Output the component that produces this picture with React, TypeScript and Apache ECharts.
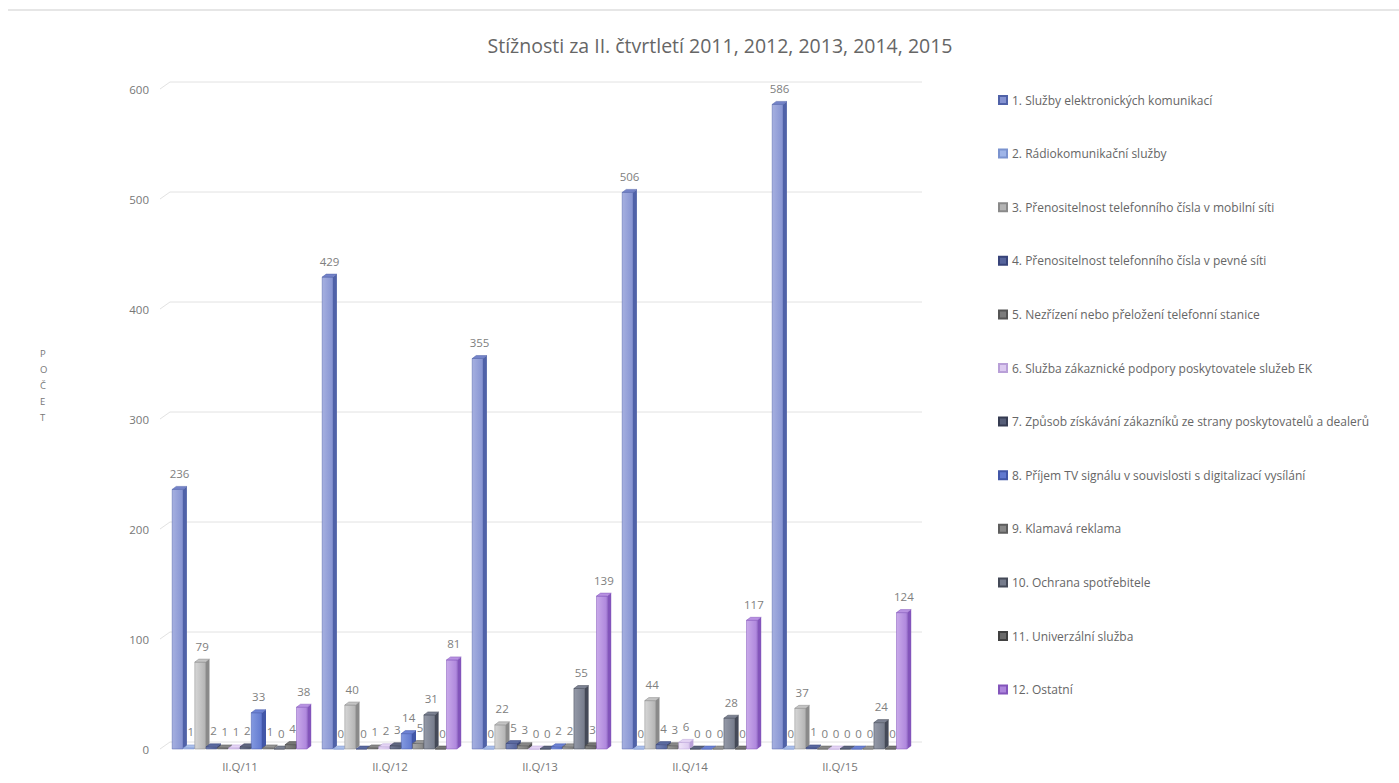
import React, { useEffect, useRef } from "react";
import * as echarts from "echarts";

const categories = ["II.Q/11", "II.Q/12", "II.Q/13", "II.Q/14", "II.Q/15"];

const seriesNames = [
  "1. Služby elektronických komunikací",
  "2. Rádiokomunikační služby",
  "3. Přenositelnost telefonního čísla v mobilní síti",
  "4. Přenositelnost telefonního čísla v pevné síti",
  "5. Nezřízení nebo přeložení telefonní stanice",
  "6. Služba zákaznické podpory poskytovatele služeb EK",
  "7. Způsob získávání zákazníků ze strany poskytovatelů a dealerů",
  "8. Příjem TV signálu v souvislosti s digitalizací vysílání",
  "9. Klamavá reklama",
  "10. Ochrana spotřebitele",
  "11. Univerzální služba",
  "12. Ostatní",
];

const sluzbyEK = [236, 429, 355, 506, 586];
const radiokomunikace = [1, 0, 0, 0, 0];
const prenositelnostMobil = [79, 40, 22, 44, 37];
const prenositelnostPevna = [2, 0, 5, 4, 1];
const nezrizeni = [1, 1, 3, 3, 0];
const zakaznickaPodpora = [1, 2, 0, 6, 0];
const ziskavaniZakazniku = [2, 3, 0, 0, 0];
const prijemTV = [33, 14, 2, 0, 0];
const klamavaReklama = [1, 5, 2, 0, 0];
const ochranaSpotrebitele = [0, 31, 55, 28, 24];
const univerzalniSluzba = [4, 0, 3, 0, 0];
const ostatni = [38, 81, 139, 117, 124];

const seriesValues = [
  sluzbyEK,
  radiokomunikace,
  prenositelnostMobil,
  prenositelnostPevna,
  nezrizeni,
  zakaznickaPodpora,
  ziskavaniZakazniku,
  prijemTV,
  klamavaReklama,
  ochranaSpotrebitele,
  univerzalniSluzba,
  ostatni,
];

const yTicks = [0, 100, 200, 300, 400, 500, 600];

// front (light / dark for gradient), side and top shades per series
const palette = [
  { a: "#a6b0e0", b: "#8593d2", side: "#5062a8", top: "#7483c8" },
  { a: "#bccdf2", b: "#9fb5e8", side: "#7b93cf", top: "#aabfea" },
  { a: "#d6d6d6", b: "#b4b4b4", side: "#8a8a8a", top: "#c4c4c4" },
  { a: "#7584b8", b: "#56649c", side: "#38447a", top: "#5a699f" },
  { a: "#9a9a9a", b: "#7c7c7c", side: "#555555", top: "#888888" },
  { a: "#efe4f8", b: "#dccaf0", side: "#b9a0d8", top: "#e4d4f4" },
  { a: "#737b96", b: "#565e78", side: "#363c52", top: "#5e6680" },
  { a: "#8399e0", b: "#6179cf", side: "#4257a8", top: "#6c82d4" },
  { a: "#a8a8a8", b: "#888888", side: "#5e5e5e", top: "#969696" },
  { a: "#959aa8", b: "#767c8c", side: "#454a58", top: "#7c8292" },
  { a: "#858585", b: "#6a6a6a", side: "#414141", top: "#767676" },
  { a: "#c9aaea", b: "#ad85dc", side: "#8355bb", top: "#b892e2" },
];

const FONT = "'Open Sans', 'Noto Sans', sans-serif";
const DX = 4;
const DY = 3;

export default function App() {
  const ref = useRef<HTMLDivElement>(null);

  useEffect(() => {
    if (!ref.current) return;
    const chart = echarts.init(ref.current, undefined, { renderer: "svg" });

    const barSeries = seriesValues.map((vals, i) => {
      const c = palette[i];
      return {
        type: "custom",
        name: seriesNames[i],
        z: 3,
        itemStyle: { color: c.b, borderColor: c.side, borderWidth: 1 },
        data: vals.map((v, j) => [j, v]),
        encode: { x: 0, y: 1 },
        renderItem: (params: any, api: any) => {
          const cat = api.value(0);
          const val = api.value(1);
          const base = api.coord([cat, 0]);
          const top = api.coord([cat, val]);
          const catW = api.size([1, 0])[0];
          const pitch = (catW * 0.904) / 12;
          const x0 = base[0] - catW * 0.452 + i * pitch;
          const w = pitch - 0.6;
          const h = base[1] - top[1];
          return {
            type: "group",
            children: [
              {
                type: "polygon",
                shape: {
                  points: [
                    [x0 + w, top[1]],
                    [x0 + w + DX, top[1] - DY],
                    [x0 + w + DX, base[1] - DY],
                    [x0 + w, base[1]],
                  ],
                },
                style: { fill: c.side },
              },
              {
                type: "rect",
                shape: { x: x0, y: top[1], width: w, height: h },
                style: {
                  fill: new echarts.graphic.LinearGradient(0, 0, 1, 0, [
                    { offset: 0, color: c.a },
                    { offset: 1, color: c.b },
                  ]),
                  stroke: c.side,
                  lineWidth: 0.5,
                },
              },
              {
                type: "polygon",
                shape: {
                  points: [
                    [x0, top[1]],
                    [x0 + DX, top[1] - DY],
                    [x0 + w + DX, top[1] - DY],
                    [x0 + w, top[1]],
                  ],
                },
                style: { fill: c.top, stroke: c.side, lineWidth: 0.5 },
              },
              {
                type: "text",
                x: x0 + w / 2 + 2,
                y: top[1] - 10,
                style: {
                  text: String(val),
                  fill: "#808080",
                  stroke: "none",
                  lineWidth: 0,
                  fontSize: 11.5,
                  fontFamily: FONT,
                  align: "center",
                  verticalAlign: "bottom",
                },
              },
            ],
          };
        },
      };
    });

    // back-wall gridlines with a short slanted floor edge on the left
    const gridSeries = {
      type: "custom",
      name: "grid",
      z: 1,
      silent: true,
      data: yTicks.map((t) => [0, t]),
      encode: { x: 0, y: 1 },
      renderItem: (params: any, api: any) => {
        const p = api.coord([0, api.value(1)]);
        const cs = params.coordSys;
        const y = p[1];
        return {
          type: "polyline",
          shape: {
            points: [
              [cs.x - 5, y],
              [cs.x + 5, y - 7],
              [cs.x + cs.width + 7, y - 7],
            ],
          },
          style: { stroke: "#e2e2e2", lineWidth: 1, fill: "none" },
        };
      },
    };

    chart.setOption({
      animation: false,
      backgroundColor: "#ffffff",
      title: {
        text: "Stížnosti za II. čtvrtletí 2011, 2012, 2013, 2014, 2015",
        left: 715,
        textAlign: "center",
        top: 30,
        textStyle: {
          fontSize: 19.5,
          fontWeight: "normal",
          color: "#666666",
          fontFamily: FONT,
        },
      },
      legend: {
        orient: "vertical",
        left: 993,
        top: 88,
        itemWidth: 8,
        itemHeight: 8,
        itemGap: 39.6,
        icon: "rect",
        data: seriesNames,
        textStyle: {
          fontSize: 12,
          color: "#666666",
          fontFamily: FONT,
          lineHeight: 14,
        },
      },
      graphic: [
        {
          type: "line",
          shape: { x1: 8, y1: 10, x2: 1399, y2: 10 },
          style: { stroke: "#e6e6e6", lineWidth: 2 },
        },
        {
          type: "text",
          left: 40,
          top: 345,
          style: {
            text: "P\nO\nČ\nE\nT",
            fill: "#777777",
            fontSize: 9.5,
            lineHeight: 16,
            align: "center",
            fontFamily: FONT,
          },
        },
      ],
      grid: { left: 165, top: 89, width: 750, height: 660 },
      xAxis: {
        type: "category",
        data: categories,
        axisLine: { show: false },
        axisTick: { show: false },
        axisLabel: {
          color: "#777777",
          fontSize: 11.5,
          fontFamily: FONT,
          margin: 11,
        },
      },
      yAxis: {
        type: "value",
        min: 0,
        max: 600,
        interval: 100,
        axisLine: { show: false },
        axisTick: { show: false },
        splitLine: { show: false },
        axisLabel: {
          color: "#777777",
          fontSize: 11.5,
          fontFamily: FONT,
          margin: 16,
        },
      },
      series: [gridSeries, ...barSeries],
    });

    return () => chart.dispose();
  }, []);

  return (
    <div
      ref={ref}
      style={{ position: "fixed", left: 0, top: 0, width: 1399, height: 783 }}
    />
  );
}
